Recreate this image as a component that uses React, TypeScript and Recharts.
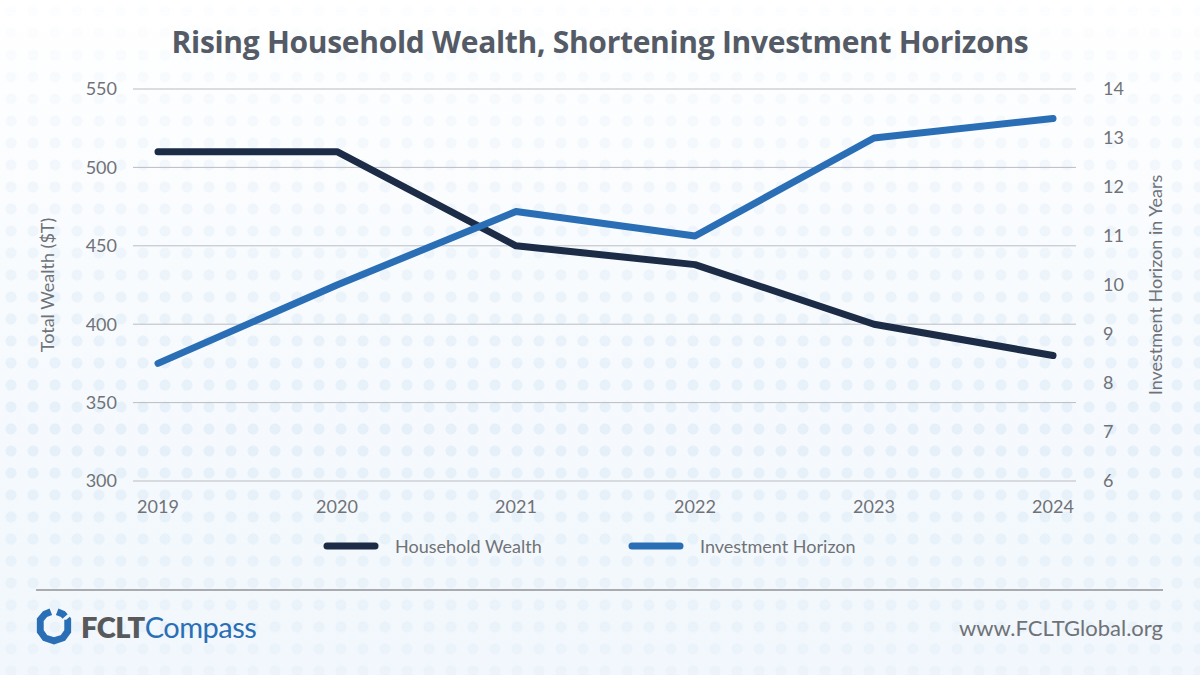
import { CartesianGrid, Legend, Line, LineChart, XAxis, YAxis } from "recharts";

const years = ["2019", "2020", "2021", "2022", "2023", "2024"];
const householdWealth = [510, 510, 450, 438, 400, 380];
const investmentHorizon = [8.4, 10, 11.5, 11, 13, 13.4];
const wealthTicks = [300, 350, 400, 450, 500, 550];
const horizonTicks = [6, 7, 8, 9, 10, 11, 12, 13, 14];

const chartData = years.map((year, i) => ({
  year,
  wealth: householdWealth[i],
  horizon: investmentHorizon[i],
}));

const FONT = "Lato, 'Open Sans', sans-serif";
const TITLE_FONT = "'Open Sans', Lato, sans-serif";
const DARK = "#1c2b46";
const BLUE = "#2a6fb5";
const GREY_TEXT = "#6f7277";

function renderLegend(props: any) {
  const { payload } = props;
  return (
    <div style={{ position: "relative", height: 30 }}>
      {payload.map((entry: any, i: number) => (
        <div
          key={entry.value}
          style={{ position: "absolute", left: 290 + i * 305, top: 0, height: 30, display: "flex", alignItems: "center" }}
        >
          <svg width={56} height={10} style={{ marginRight: 16 }}>
            <line x1={4} y1={5} x2={52} y2={5} stroke={entry.color} strokeWidth={7} strokeLinecap="round" />
          </svg>
          <span style={{ fontFamily: FONT, fontSize: 18, fontWeight: 400, color: GREY_TEXT, whiteSpace: "nowrap" }}>
            {entry.value}
          </span>
        </div>
      ))}
    </div>
  );
}

function Logo() {
  return (
    <div style={{ position: "absolute", left: 35, top: 607, display: "flex", alignItems: "center" }}>
      <svg width={38} height={38} viewBox="0 0 36 36">
        <path
          d="M 21 4.5 L 26.5 6.7 L 31 12 L 31 23 L 26.5 29.3 L 18 32 L 9.5 29.3 L 5 23 L 5 12 L 9.5 6.7 L 15 4.5"
          fill="none"
          stroke={BLUE}
          strokeWidth={6.5}
          strokeLinejoin="miter"
          strokeDasharray="9 3 200"
        />
      </svg>
      <span style={{ fontFamily: FONT, fontSize: 29, marginLeft: 8, letterSpacing: -0.5 }}>
        <span style={{ fontWeight: 800, color: "#58595b" }}>FCLT</span>
        <span style={{ fontWeight: 400, color: BLUE }}>Compass</span>
      </span>
    </div>
  );
}

export default function App() {
  return (
    <div
      style={{
        position: "fixed",
        left: 0,
        top: 0,
        width: 1200,
        height: 675,
        overflow: "hidden",
        background: "linear-gradient(#ffffff 0%, #f8fbfe 40%, #f1f7fc 100%)",
      }}
    >
      <div
        style={{
          position: "absolute",
          inset: 0,
          backgroundImage: "radial-gradient(circle, rgba(205,225,242,0.45) 5px, transparent 6px)",
          backgroundSize: "22px 22px",
          WebkitMaskImage: "linear-gradient(rgba(0,0,0,0.1), rgba(0,0,0,0.9) 65%, rgba(0,0,0,0.3))",
          maskImage: "linear-gradient(rgba(0,0,0,0.1), rgba(0,0,0,0.9) 65%, rgba(0,0,0,0.3))",
        }}
      />
      <div
        style={{
          position: "absolute",
          top: 21,
          width: 1200,
          textAlign: "center",
          fontFamily: TITLE_FONT,
          fontWeight: 700,
          fontSize: 30,
          letterSpacing: -0.3,
          color: "#545b66",
        }}
      >
        Rising Household Wealth, Shortening Investment Horizons
      </div>
      <div style={{ position: "absolute", left: 0, top: 0 }}>
        <LineChart
          width={1200}
          height={600}
          data={chartData}
          margin={{ top: 89, right: 24, left: 33, bottom: 39 }}
        >
          <CartesianGrid vertical={false} yAxisId="left" stroke="#b9bdc3" strokeWidth={1} />
          <XAxis
            dataKey="year"
            axisLine={false}
            tickLine={false}
            tickSize={0}
            tickMargin={19}
            height={50}
            padding={{ left: 25, right: 23 }}
            tick={{ fontFamily: FONT, fontSize: 18, fontWeight: 400, fill: GREY_TEXT }}
          />
          <YAxis
            yAxisId="left"
            domain={[300, 550]}
            ticks={wealthTicks}
            axisLine={false}
            tickLine={false}
            tickSize={0}
            tickMargin={16}
            width={100}
            tick={{ fontFamily: FONT, fontSize: 18, fontWeight: 400, fill: GREY_TEXT }}
            label={({ viewBox }: any) => (
              <text
                x={viewBox.x + 14}
                y={viewBox.y + viewBox.height / 2}
                transform={`rotate(-90, ${viewBox.x + 14}, ${viewBox.y + viewBox.height / 2})`}
                textAnchor="middle"
                dominantBaseline="central"
                fontFamily={FONT}
                fontSize={18}
                fontWeight={400}
                fill={GREY_TEXT}
              >
                Total Wealth ($T)
              </text>
            )}
          />
          <YAxis
            yAxisId="right"
            orientation="right"
            domain={[6, 14]}
            ticks={horizonTicks}
            axisLine={false}
            tickLine={false}
            tickSize={0}
            tickMargin={27}
            width={100}
            tick={{ fontFamily: FONT, fontSize: 18, fontWeight: 400, fill: GREY_TEXT, textAnchor: "start" }}
            label={({ viewBox }: any) => (
              <text
                x={viewBox.x + 79}
                y={viewBox.y + viewBox.height / 2}
                transform={`rotate(-90, ${viewBox.x + 79}, ${viewBox.y + viewBox.height / 2})`}
                textAnchor="middle"
                dominantBaseline="central"
                fontFamily={FONT}
                fontSize={18}
                fontWeight={400}
                fill={GREY_TEXT}
              >
                Investment Horizon in Years
              </text>
            )}
          />
          <Legend verticalAlign="bottom" content={renderLegend} />
          <Line
            yAxisId="left"
            type="linear"
            dataKey="wealth"
            name="Household Wealth"
            stroke={DARK}
            strokeWidth={7}
            strokeLinecap="round"
            strokeLinejoin="round"
            dot={false}
            activeDot={false}
            isAnimationActive={false}
          />
          <Line
            yAxisId="right"
            type="linear"
            dataKey="horizon"
            name="Investment Horizon"
            stroke={BLUE}
            strokeWidth={7}
            strokeLinecap="round"
            strokeLinejoin="round"
            dot={false}
            activeDot={false}
            isAnimationActive={false}
          />
        </LineChart>
      </div>
      <div style={{ position: "absolute", left: 36, top: 589, width: 1127, height: 1.5, background: "#a9adb2" }} />
      <Logo />
      <div
        style={{
          position: "absolute",
          right: 37,
          top: 614,
          fontFamily: FONT,
          fontSize: 22,
          fontWeight: 400,
          color: GREY_TEXT,
        }}
      >
        www.FCLTGlobal.org
      </div>
    </div>
  );
}
